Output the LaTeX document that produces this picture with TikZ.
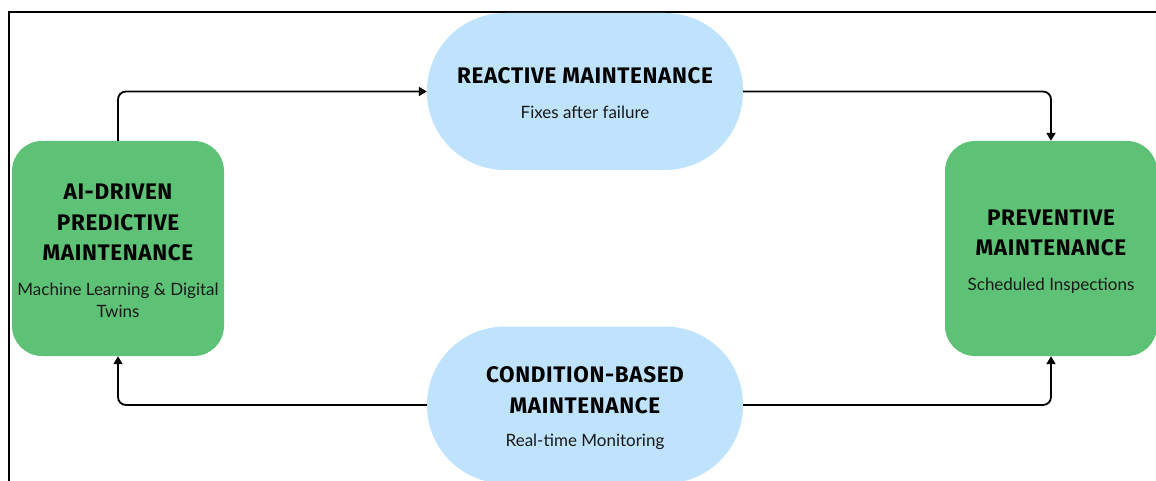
\documentclass[tikz,border=0pt]{standalone}
\usepackage{fontspec}
\setmainfont{Lato}
\newfontfamily\headfont{Fira Sans}[LetterSpace=2.8]
\usetikzlibrary{arrows.meta}
\definecolor{boxgreen}{RGB}{94,194,118}
\definecolor{pillblue}{RGB}{191,227,252}
\tikzset{
  greenbox/.style={fill=boxgreen, draw=none, rounded corners=30pt, minimum width=212pt, minimum height=215pt, inner sep=0pt},
  pill/.style={fill=pillblue, draw=none, rounded corners=78pt, minimum width=316pt, minimum height=157pt, inner sep=0pt},
  heading/.style={font=\headfont\bfseries\fontsize{22.5}{30.5}\selectfont, align=center, inner sep=0pt},
  subtext/.style={font=\fontsize{17}{21.5}\selectfont, align=center, inner sep=0pt, text=black!90},
  conn/.style={draw=black, line width=1.8pt, rounded corners=8pt, -{Triangle[length=8pt,width=9pt]}},
  frameline/.style={draw=black, line width=1.4pt}
}
\begin{document}
\begin{tikzpicture}[x=1pt, y=-1pt]
  \useasboundingbox (0,0) rectangle (1156,481);
  % partial outer frame
  \coordinate (fTL) at (9,12);
  \coordinate (fTR) at (1157,12);
  \coordinate (fBL) at (9,482);
  \draw[frameline] (fTR) -- (fTL) -- (fBL);

  % stage shapes
  \node[greenbox] (ai)   at (118,248.5) {};
  \node[greenbox] (prev) at (1051,248.5) {};
  \node[pill]     (react) at (585,91.5) {};
  \node[pill]     (cond)  at (585,405) {};

  % labels
  \node[heading] (ai-h) at (118,222.5) {AI-DRIVEN\\PREDICTIVE\\MAINTENANCE};
  \node[subtext] (ai-s) at (118,300.5) {Machine Learning \& Digital\\Twins};
  \node[heading] (prev-h) at (1051,233) {PREVENTIVE\\MAINTENANCE};
  \node[subtext] (prev-s) at (1051,286) {Scheduled Inspections};
  \node[heading] (react-h) at (585,76) {REACTIVE MAINTENANCE};
  \node[subtext] (react-s) at (585,112) {Fixes after failure};
  \node[heading] (cond-h) at (585,390) {CONDITION-BASED\\MAINTENANCE};
  \node[subtext] (cond-s) at (585,441.5) {Real-time Monitoring};

  % cycle connectors
  \draw[conn] (ai.north) |- (react.west);
  \draw[conn] (react.east) -| (prev.north);
  \draw[conn] (cond.east) -| (prev.south);
  \draw[conn] (cond.west) -| (ai.south);
\end{tikzpicture}
\end{document}
